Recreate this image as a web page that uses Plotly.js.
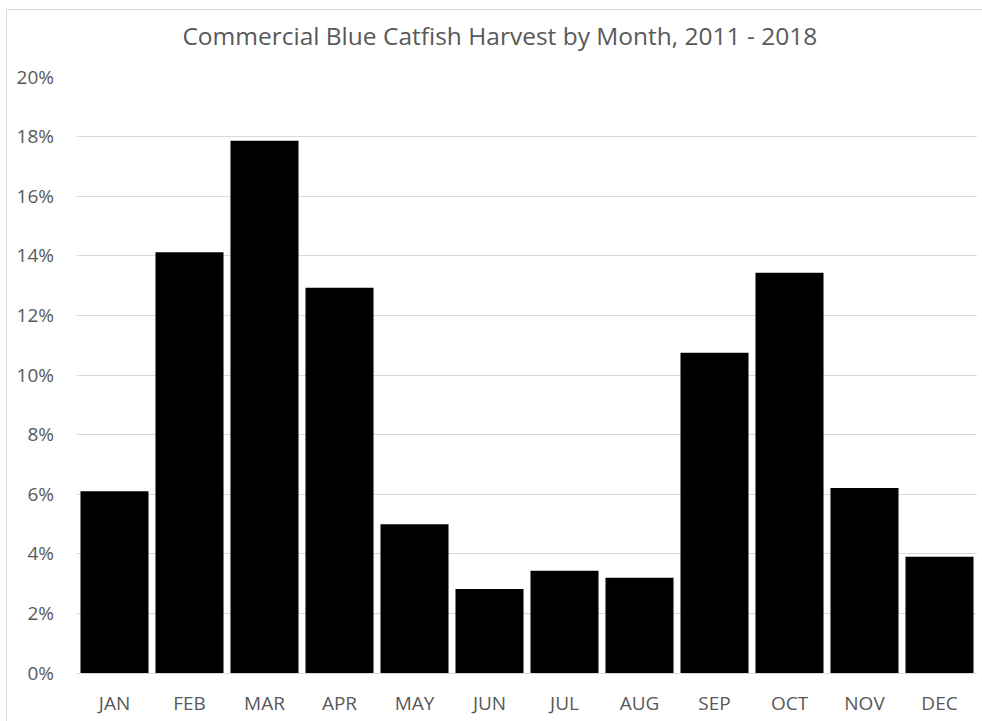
<!DOCTYPE html>
<html>
<head>
<meta charset="utf-8">
<script src="https://cdn.plot.ly/plotly-3.0.1.min.js"></script>
<style>
html,body{margin:0;padding:0;background:#fff;overflow:hidden;}
#frame{position:absolute;left:6px;top:9px;width:1100px;height:800px;border-left:1px solid #d9d9d9;border-top:1px solid #d9d9d9;}
#chart{position:absolute;left:0;top:0;width:982px;height:721px;}
</style>
</head>
<body>
<div id="frame"></div>
<div id="chart"></div>
<script>
const months = ["JAN","FEB","MAR","APR","MAY","JUN","JUL","AUG","SEP","OCT","NOV","DEC"];
const harvestPct = [6.1, 14.12, 17.86, 12.93, 4.99, 2.82, 3.43, 3.2, 10.75, 13.43, 6.21, 3.9];
const yTickVals = [0,2,4,6,8,10,12,14,16,18,20];
const yTickText = ["0%","2%","4%","6%","8%","10%","12%","14%","16%","18%","20%"];

const trace = {
  type: 'bar',
  x: months,
  y: harvestPct,
  marker: {color: '#000000', line: {width: 0}},
  hoverinfo: 'x+y'
};

const layout = {
  width: 982,
  height: 721,
  paper_bgcolor: 'rgba(0,0,0,0)',
  plot_bgcolor: 'rgba(0,0,0,0)',
  margin: {l: 77, r: 5, t: 77, b: 48, pad: 0},
  bargap: 0.093,
  showlegend: false,
  title: {
    text: 'Commercial Blue Catfish Harvest by Month, 2011 - 2018',
    font: {family: 'Open Sans, sans-serif', size: 24.5, color: '#595959'},
    x: 0.509, xanchor: 'center', xref: 'container',
    y: 0.949, yanchor: 'middle', yref: 'container'
  },
  font: {family: 'Open Sans, sans-serif', color: '#595959'},
  xaxis: {
    type: 'category',
    tickfont: {size: 19, color: '#595959'},
    showgrid: false,
    showline: false,
    ticks: '',
    ticklabelstandoff: 17,
    fixedrange: true
  },
  yaxis: {
    range: [0, 20],
    tickvals: yTickVals,
    ticktext: yTickText,
    tickfont: {size: 19, color: '#595959'},
    showgrid: true,
    gridcolor: '#d9d9d9',
    gridwidth: 1,
    zeroline: true,
    zerolinecolor: '#d9d9d9',
    zerolinewidth: 1,
    showline: false,
    ticks: '',
    ticklabelstandoff: 22,
    fixedrange: true
  }
};

Plotly.newPlot('chart', [trace], layout, {displayModeBar: false, staticPlot: true});
</script>
</body>
</html>
